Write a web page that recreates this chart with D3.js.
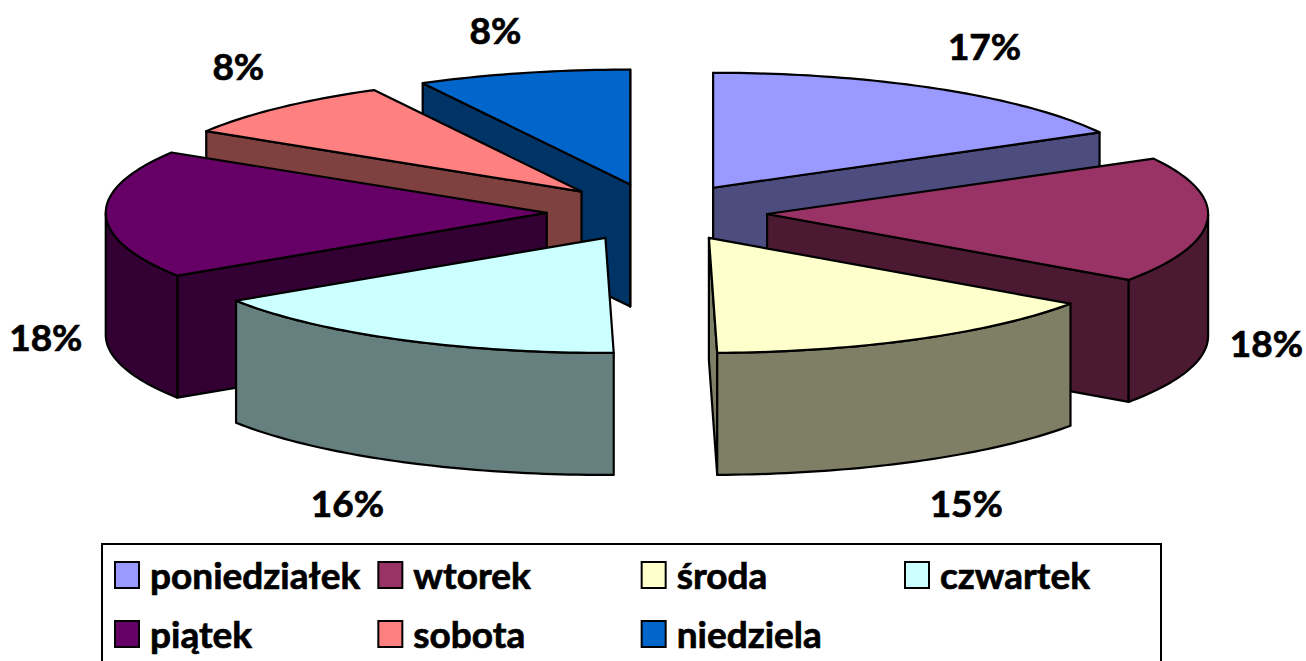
<!DOCTYPE html>
<html><head><meta charset="utf-8">
<script src="https://cdnjs.cloudflare.com/ajax/libs/d3/7.8.5/d3.min.js"></script>
<style>html,body{margin:0;padding:0;background:#fff;overflow:hidden}svg{display:block}text{font-family:Lato,"Open Sans",sans-serif;font-weight:700;fill:#000;stroke:#000;stroke-width:.7px}</style>
</head><body><svg id="c" width="1306" height="661"></svg>
<script>
const categories=["poniedziałek","wtorek","środa","czwartek","piątek","sobota","niedziela"];
const values=[17.0,17.7,15.0,16.1,18.0,8.4,7.8];
const topColors=["#9999FF","#993366","#FFFFCC","#CCFFFF","#660066","#FF8080","#0066CC"];
const sideColors=["#4C4C7F","#4C1933","#7F7F66","#667F7F","#330033","#7F4040","#003366"];
// label placement, as multiples of the ellipse radii along each slice's middle angle
const labelKx=[1.209,1.134,1.24,1.25,1.136,1.137,1.26];
const labelKy=[1.425,1.2,1.416,1.416,1.5,1.487,1.38];

const cx=657,cy=212.5,rx=441,ry=115,depth=122,explode=0.25;
const svg=d3.select("#c");
const total=d3.sum(values);
const arcs=d3.pie().sort(null)(values);
const P=(c,a)=>[c[0]+rx*Math.sin(a),c[1]-ry*Math.cos(a)];
const line=d3.line();

const slices=arcs.map((d,i)=>{
  const mid=(d.startAngle+d.endAngle)/2;
  const c=[cx+explode*rx*Math.sin(mid),cy-explode*ry*Math.cos(mid)];
  return {i,a0:d.startAngle,a1:d.endAngle,mid,c,value:d.value};
});
const arcPts=(s,a0,a1,dz=0)=>{
  const n=Math.max(2,Math.ceil((a1-a0)/0.02));
  return d3.range(n+1).map(j=>{const p=P(s.c,a0+(a1-a0)*j/n);return [p[0],p[1]+dz];});
};
const order=slices.slice().sort((a,b)=>d3.ascending(a.c[1],b.c[1]));
const g=svg.append("g").attr("stroke","#000").attr("stroke-width",2.2).attr("stroke-linejoin","round");
order.forEach(s=>{
  const sg=g.append("g");
  const side=sideColors[s.i];
  const faces=[];
  if(Math.sin(s.a0)<=1e-9) faces.push(s.a0);
  if(Math.sin(s.a1)>=-1e-9) faces.push(s.a1);
  faces.forEach(a=>{
    const p=P(s.c,a);
    sg.append("path").attr("fill",side).attr("d",line([s.c,p,[p[0],p[1]+depth],[s.c[0],s.c[1]+depth]])+"Z");
  });
  const f0=Math.max(s.a0,Math.PI/2),f1=Math.min(s.a1,Math.PI*1.5);
  if(f1>f0){
    const up=arcPts(s,f0,f1),dn=arcPts(s,f0,f1,depth).reverse();
    sg.append("path").attr("fill",side).attr("d",line(up.concat(dn))+"Z");
  }
  sg.append("path").attr("fill",topColors[s.i]).attr("d",line([s.c].concat(arcPts(s,s.a0,s.a1)))+"Z");
});
// percentage labels
const fmt=v=>Math.round(v/total*100)+"%";
svg.append("g").selectAll("text").data(slices).join("text")
  .attr("font-size",37).attr("text-anchor","middle").attr("dominant-baseline","middle")
  .attr("x",s=>s.c[0]+rx*Math.sin(s.mid)*labelKx[s.i])
  .attr("y",s=>s.c[1]-ry*labelKy[s.i]*Math.cos(s.mid)+(Math.cos(s.mid)<0?depth:0)+4)
  .text(s=>fmt(s.value));
// legend
const lg=svg.append("g");
lg.append("rect").attr("x",102).attr("y",544).attr("width",1059).attr("height",140).attr("fill","none").attr("stroke","#000").attr("stroke-width",2);
const colX=d3.scalePoint().domain([0,1,2,3]).range([115,905]);
const rowY=d3.scalePoint().domain([0,1]).range([562,621]);
const items=lg.selectAll("g").data(categories).join("g")
  .attr("transform",(d,i)=>`translate(${colX(i%4)},${rowY(Math.floor(i/4))})`);
items.append("rect").attr("width",24).attr("height",26).attr("fill",(d,i)=>topColors[i]).attr("stroke","#000").attr("stroke-width",2);
items.append("text").attr("x",35).attr("y",27).attr("font-size",37).text(d=>d);
</script></body></html>
